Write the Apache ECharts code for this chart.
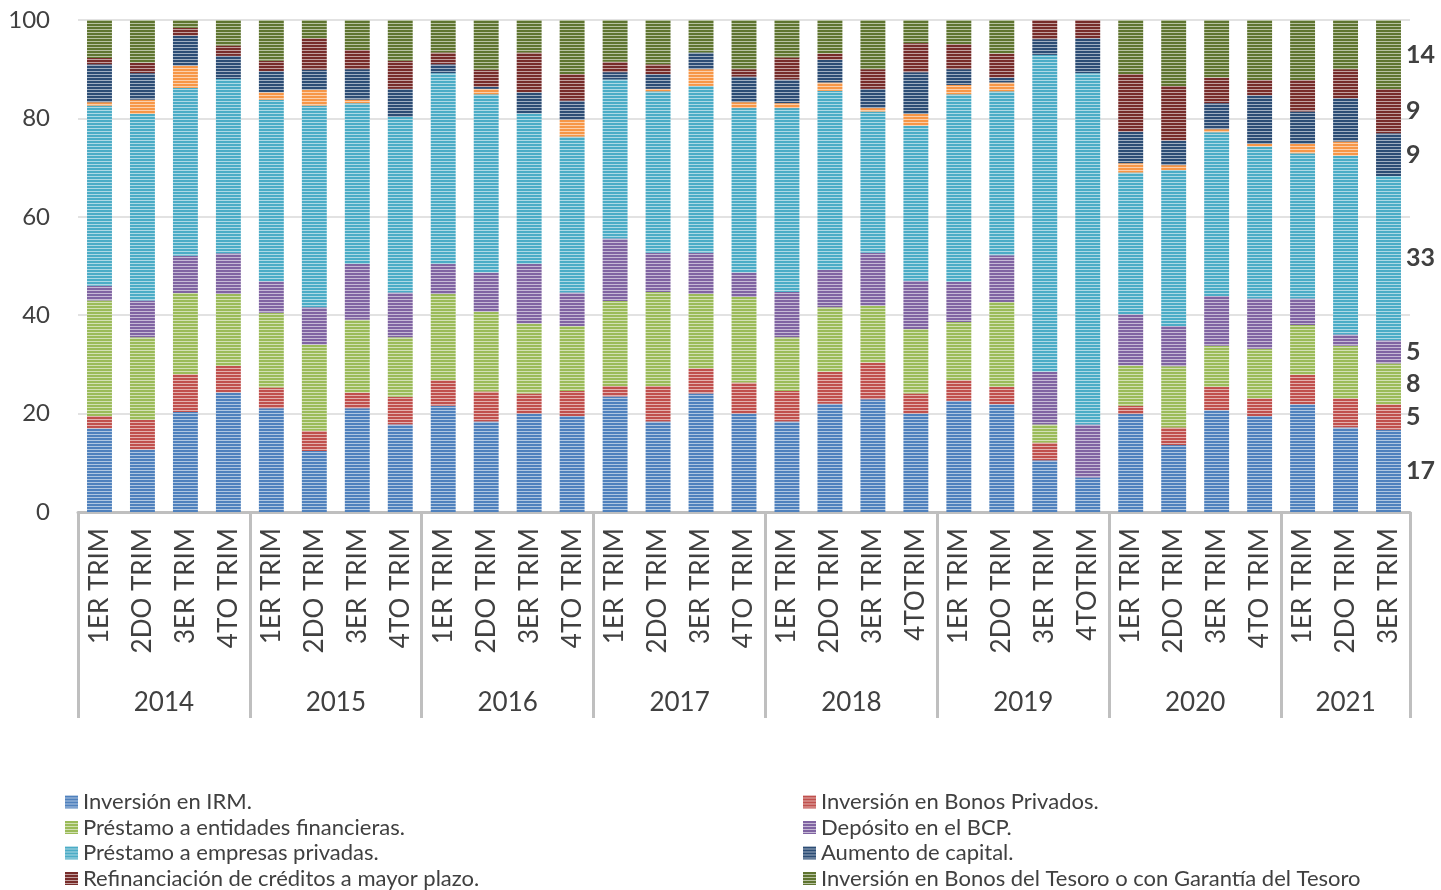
<!DOCTYPE html>
<html>
<head>
<meta charset="utf-8">
<script src="https://cdn.jsdelivr.net/npm/echarts@6/dist/echarts.min.js"></script>
<style>
html,body{margin:0;padding:0;background:#fff;}
#chart{width:1441px;height:890px;}
</style>
</head>
<body>
<div id="chart"></div>
<script>
// ---- Data ----
const years = ['2014','2015','2016','2017','2018','2019','2020','2021'];
const quarterLabels = [
  ['1ER TRIM','2DO TRIM','3ER TRIM','4TO TRIM'],
  ['1ER TRIM','2DO TRIM','3ER TRIM','4TO TRIM'],
  ['1ER TRIM','2DO TRIM','3ER TRIM','4TO TRIM'],
  ['1ER TRIM','2DO TRIM','3ER TRIM','4TO TRIM'],
  ['1ER TRIM','2DO TRIM','3ER TRIM','4TOTRIM'],
  ['1ER TRIM','2DO TRIM','3ER TRIM','4TOTRIM'],
  ['1ER TRIM','2DO TRIM','3ER TRIM','4TO TRIM'],
  ['1ER TRIM','2DO TRIM','3ER TRIM']
];
const yTicks = [0, 20, 40, 60, 80, 100];

const irm        = [17.0,12.7,20.3,24.3, 21.1,12.4,21.1,17.8, 21.6,18.4,20.0,19.5, 23.5,18.4,24.1,20.0, 18.4,22.0,22.9,20.0, 22.6,21.9,10.5,7.0, 19.9,13.6,20.7,19.5, 21.9,17.2,16.7];
const bonosPriv  = [2.5,6.0,7.7,5.4, 4.2,4.1,3.2,5.6, 5.2,6.1,4.1,5.1, 2.1,7.2,5.1,6.3, 6.2,6.5,7.5,4.1, 4.2,3.5,3.6,0, 1.7,3.6,4.7,3.6, 6.0,5.9,5.2];
const prestEnt   = [23.5,16.8,16.5,14.6, 15.2,17.5,14.8,12.1, 17.5,16.2,14.2,13.2, 17.3,19.1,15.1,17.4, 10.9,13.1,11.5,13.1, 11.8,17.3,3.7,0, 8.2,12.4,8.4,10.1, 10.1,10.7,8.3];
const bcp        = [3.0,7.5,7.6,8.3, 6.4,7.6,11.3,9.1, 6.1,8.0,12.1,6.8, 12.7,8.0,8.4,5.0, 9.2,7.6,10.8,9.8, 8.2,9.5,10.7,10.8, 10.4,8.2,10.1,10.2, 5.4,2.3,4.7];
const prestEmp   = [36.6,37.9,34.1,35.4, 36.9,41.0,32.7,35.7, 38.8,36.2,30.6,31.7, 32.3,32.8,33.9,33.4, 37.4,36.4,28.7,31.5, 38.1,33.3,64.4,71.4, 28.8,31.7,33.3,30.9, 29.5,36.3,33.4];
const otros      = [0.7,2.9,4.5,0, 1.5,3.2,0.7,0, 0,1.1,0,3.4, 0,0.5,3.4,1.2, 1.0,1.7,0.7,2.4, 1.9,1.8,0,0, 1.9,1.0,0.6,0.5, 1.9,2.9,0];
const aumento    = [7.7,5.4,6.1,4.7, 4.3,4.1,6.2,5.7, 1.8,0.4,4.3,3.9, 1.5,3.0,3.4,5.2, 4.8,4.6,3.9,8.5, 3.2,1.0,3.2,7.1, 6.4,5.0,5.3,9.9, 6.6,8.8,8.7];
const refin      = [1.3,2.1,1.6,2.1, 2.1,6.4,3.9,5.7, 2.4,3.5,8.1,5.4, 2.1,2.0,0,1.5, 4.5,1.3,4.0,5.9, 5.1,4.9,3.9,3.7, 11.7,11.1,5.2,3.1, 6.4,5.9,9.0];
const tesoro     = [7.7,8.7,1.6,5.2, 8.3,3.7,6.1,8.3, 6.6,10.1,6.6,11.0, 8.5,9.0,6.6,10.0, 7.6,6.8,10.0,4.7, 4.9,6.8,0,0, 11.0,13.4,11.7,12.2, 12.2,10.0,14.0];

const seriesDefs = [
  {name:'Inversión en IRM.', data: irm, color:'#4F81BD', legend:1},
  {name:'Inversión en Bonos Privados.', data: bonosPriv, color:'#C0504D', legend:2},
  {name:'Préstamo a entidades financieras.', data: prestEnt, color:'#9BBB59', legend:1},
  {name:'Depósito en el BCP.', data: bcp, color:'#8064A2', legend:2},
  {name:'Préstamo a empresas privadas.', data: prestEmp, color:'#4BACC6', legend:1},
  {name:'Otros', data: otros, color:'#F79646', legend:0},
  {name:'Aumento de capital.', data: aumento, color:'#2C4D75', legend:2},
  {name:'Refinanciación de créditos a mayor plazo.', data: refin, color:'#772C2A', legend:1},
  {name:'Inversión en Bonos del Tesoro o con Garantía del Tesoro', data: tesoro, color:'#5F7530', legend:2}
];

// ---- Derived categories ----
const categories = [];
const groupStarts = [];
quarterLabels.forEach(q => { groupStarts.push(categories.length); q.forEach(l => categories.push(l)); });
const n = categories.length;
// half-band axis for centred year labels
const yearAxisData = new Array(2 * n + 1).fill('');
quarterLabels.forEach((q, g) => { yearAxisData[2 * groupStarts[g] + q.length] = years[g]; });

function stripe(hex) {
  const c = document.createElement('canvas');
  c.width = 4; c.height = 3;
  const ctx = c.getContext('2d');
  ctx.fillStyle = hex; ctx.fillRect(0, 0, 4, 3);
  ctx.fillStyle = 'rgba(255,255,255,0.55)'; ctx.fillRect(0, 2, 4, 1);
  return {image: c, repeat: 'repeat'};
}

const FONT = 'Lato';
const TXT = '#404040';

const legendCommon = {
  orient: 'vertical', top: 791, padding: 0, itemWidth: 13, itemHeight: 13, itemGap: 3.5,
  icon: 'rect', selectedMode: false,
  textStyle: {fontFamily: FONT, fontSize: 22, color: TXT, lineHeight: 22}
};

const chart = echarts.init(document.getElementById('chart'), null, {renderer: 'canvas'});
chart.setOption({
  animation: false,
  backgroundColor: '#fff',
  grid: {left: 78, right: 31, top: 20, bottom: 378, containLabel: false},
  legend: [
    Object.assign({}, legendCommon, {
      left: 65,
      data: seriesDefs.filter(s => s.legend === 1).map(s => s.name)
    }),
    Object.assign({}, legendCommon, {
      left: 803,
      data: seriesDefs.filter(s => s.legend === 2).map(s => s.name)
    })
  ],
  xAxis: [
    {
      type: 'category',
      data: categories,
      boundaryGap: true,
      axisLine: {show: true, lineStyle: {color: '#BFBFBF', width: 3}},
      axisTick: {
        show: true, length: 206, inside: false,
        interval: function (idx) { return groupStarts.indexOf(idx) >= 0; },
        lineStyle: {color: '#BFBFBF', width: 3}
      },
      axisLabel: {
        interval: 0, rotate: 90, margin: 16,
        fontFamily: FONT, fontSize: 26, color: TXT
      },
      splitLine: {show: false}
    },
    {
      type: 'category',
      data: yearAxisData,
      boundaryGap: false,
      position: 'bottom',
      offset: 172,
      axisLine: {show: false},
      axisTick: {show: false},
      axisLabel: {interval: 0, margin: 6, fontFamily: FONT, fontSize: 26, color: TXT},
      splitLine: {show: false}
    }
  ],
  yAxis: {
    type: 'value',
    min: yTicks[0], max: yTicks[yTicks.length - 1], interval: yTicks[1] - yTicks[0],
    axisLine: {show: false},
    axisTick: {show: false},
    axisLabel: {margin: 28, fontFamily: FONT, fontSize: 24, color: TXT},
    splitLine: {lineStyle: {color: '#D9D9D9', width: 1.5}}
  },
  series: seriesDefs.map(s => ({
    name: s.name,
    type: 'bar',
    stack: 'total',
    xAxisIndex: 0,
    barWidth: '58%',
    data: s.data,
    itemStyle: {color: stripe(s.color)},
    label: {
      show: true,
      position: 'right',
      distance: 5,
      fontFamily: FONT, fontSize: 25, fontWeight: 'bold', color: TXT,
      formatter: function (p) {
        return (p.dataIndex === n - 1 && p.value > 0) ? String(Math.round(p.value)) : '';
      }
    }
  }))
});
</script>
</body>
</html>
